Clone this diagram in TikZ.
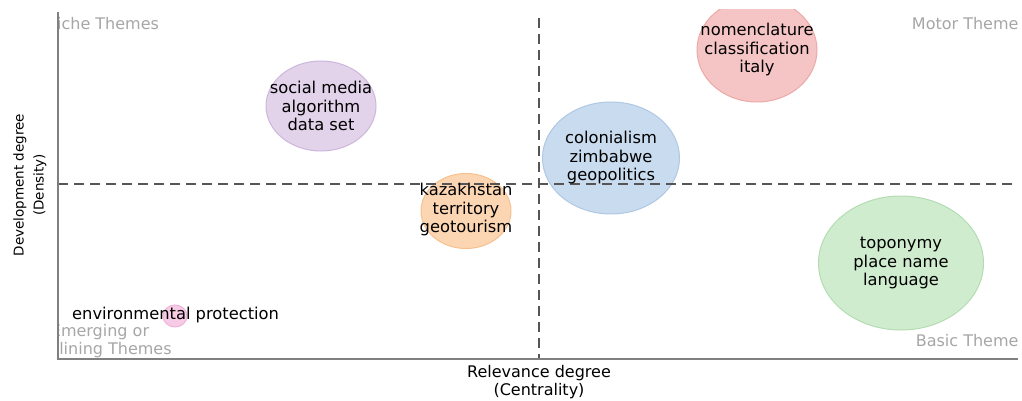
\documentclass[tikz,border=0pt]{standalone}
\usepackage{fontspec}
\setmainfont{DejaVu Sans}
\usetikzlibrary{shapes.geometric}
\definecolor{axisgrey}{HTML}{808080}
\definecolor{dashgrey}{HTML}{555555}
\definecolor{themegrey}{HTML}{A6A6A6}
\definecolor{purplefill}{HTML}{E2D3EA}
\definecolor{purpledraw}{HTML}{CDB6DB}
\definecolor{redfill}{HTML}{F5C4C4}
\definecolor{reddraw}{HTML}{EDA8A8}
\definecolor{bluefill}{HTML}{C9DBEE}
\definecolor{bluedraw}{HTML}{AFC8E3}
\definecolor{orangefill}{HTML}{FCD6B2}
\definecolor{orangedraw}{HTML}{F6C08E}
\definecolor{greenfill}{HTML}{D0ECCF}
\definecolor{greendraw}{HTML}{B3DDB1}
\definecolor{pinkfill}{HTML}{F7CBE5}
\definecolor{pinkdraw}{HTML}{EFB3D6}
\tikzset{
	bubble/.style={ellipse, inner sep=0pt, line width=1pt},
	keywords/.style={inner sep=0pt, font=\fontsize{16.3}{18.5}\selectfont, align=center, text=black},
	quadrant/.style={text=themegrey, font=\fontsize{16}{18}\selectfont, inner sep=0pt},
	axislabel/.style={font=\fontsize{16}{18}\selectfont, align=center, inner sep=0pt},
	axisline/.style={draw=axisgrey, line width=1.5pt},
	divider/.style={draw=dashgrey, line width=1.3pt, dash pattern=on 10pt off 6pt}
}
\begin{document}
\begin{tikzpicture}[x=1pt, y=-1pt]
	\useasboundingbox (0,0) rectangle (1022,401);
	% plot frame
	\coordinate (top) at (58,12);
	\coordinate (origin) at (58,359);
	\coordinate (right) at (1018,359);
	\coordinate (vtop) at (539,18);
	\coordinate (vbot) at (539,359);
	\coordinate (hleft) at (58,184);
	\coordinate (hright) at (1018,184);
	\begin{scope}
		\clip (58,10) rectangle (1018,359);
		% quadrant names
		\node[quadrant, anchor=west] (niche) at (45,24) {Niche Themes};
		\node[quadrant, anchor=east] (motor) at (1027,24) {Motor Themes};
		\node[quadrant, align=center] (emerging) at (100,341) {Emerging or\\Declining Themes};
		\node[quadrant, anchor=east] (basic) at (1027,341) {Basic Themes};
		% themes
		\node[bubble, fill=purplefill, draw=purpledraw, minimum width=110pt, minimum height=90pt] (social) at (321,106) {};
		\node[bubble, fill=redfill, draw=reddraw, minimum width=120pt, minimum height=104pt] (nomen) at (757,50) {};
		\node[bubble, fill=bluefill, draw=bluedraw, minimum width=137pt, minimum height=112pt] (colonial) at (611,158) {};
		\node[bubble, fill=orangefill, draw=orangedraw, minimum width=90pt, minimum height=75pt] (kazakh) at (466,211) {};
		\node[bubble, fill=greenfill, draw=greendraw, minimum width=165pt, minimum height=134pt] (topo) at (901,263) {};
		\node[bubble, fill=pinkfill, draw=pinkdraw, minimum width=24pt, minimum height=22pt] (env) at (175,316) {};
		% dividers
		\draw[divider] (vtop) -- (vbot);
		\draw[divider] (hleft) -- (hright);
		% keyword labels
		\node[keywords] (socialtext) at (social.center) {social media\\algorithm\\data set};
		\node[keywords] (nomentext) at (nomen.center) {nomenclature\\classification\\italy};
		\node[keywords] (colonialtext) at (colonial.center) {colonialism\\zimbabwe\\geopolitics};
		\node[keywords] (kazakhtext) at ([yshift=1pt]kazakh.center) {kazakhstan\\territory\\geotourism};
		\node[keywords] (topotext) at (topo.center) {toponymy\\place name\\language};
		\node[keywords, anchor=west] (envtext) at (72,315) {environmental protection};
	\end{scope}
	% axes
	\draw[axisline] (top) -- (origin) -- (right);
	\node[axislabel] (xlabel) at (539,382) {Relevance degree\\(Centrality)};
	\node[axislabel, font=\fontsize{13.5}{20}\selectfont, rotate=90] (ylabel) at (30,185) {Development degree\\(Density)};
\end{tikzpicture}
\end{document}
